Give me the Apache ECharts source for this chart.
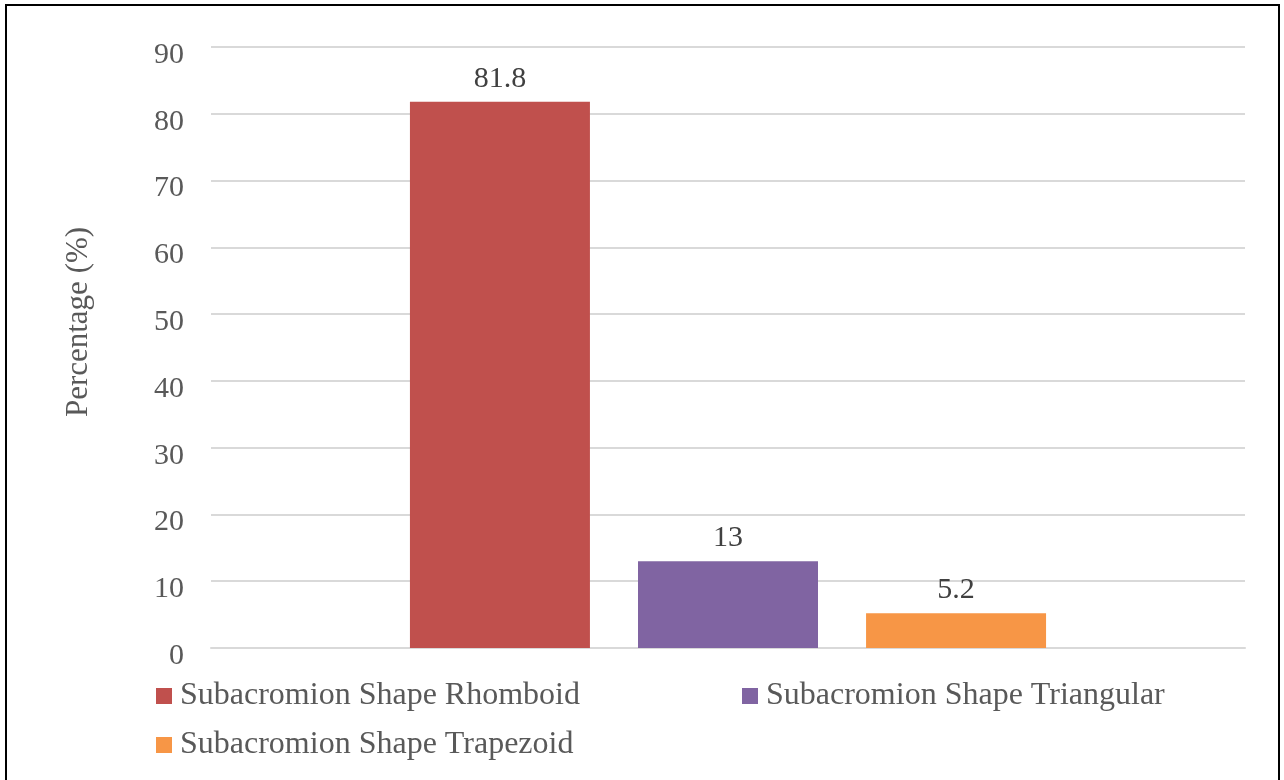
<!DOCTYPE html>
<html>
<head>
<meta charset="utf-8">
<script src="https://cdn.jsdelivr.net/npm/echarts@6/dist/echarts.min.js"></script>
<style>
  html, body { margin: 0; padding: 0; background: #fff; }
  #chart { width: 1284px; height: 780px; }
</style>
</head>
<body>
<div id="chart"></div>
<script>
// Subacromion shape distribution (%)
const categories = ['Subacromion Shape'];
const seriesNames = ['Subacromion Shape Rhomboid', 'Subacromion Shape Triangular', 'Subacromion Shape Trapezoid'];
const rhomboid = [81.8];
const triangular = [13];
const trapezoid = [5.2];
const yTicks = [0, 10, 20, 30, 40, 50, 60, 70, 80, 90];

const colors = ['#C0504D', '#8064A2', '#F79646'];
const fontFamily = '"Liberation Serif", "Times New Roman", serif';

const chart = echarts.init(document.getElementById('chart'));

function legendAt(name, left, top) {
  return {
    data: [name],
    left: left,
    top: top,
    orient: 'horizontal',
    icon: 'rect',
    itemWidth: 16,
    itemHeight: 16,
    itemGap: 0,
    padding: 0,
    selectedMode: false,
    textStyle: { fontFamily: fontFamily, fontSize: 32, color: '#595959', padding: [12, 0, 0, 3] }
  };
}

const valuesBySeries = [rhomboid, triangular, trapezoid];

chart.setOption({
  animation: false,
  backgroundColor: '#ffffff',
  color: colors,
  grid: { left: 211, right: 39, top: 47, bottom: 132, containLabel: false },
  xAxis: {
    type: 'category',
    data: categories,
    axisLine: { show: true, lineStyle: { color: '#d9d9d9', width: 2 } },
    axisTick: { show: false },
    axisLabel: { show: false }
  },
  yAxis: {
    type: 'value',
    min: yTicks[0],
    max: yTicks[yTicks.length - 1],
    interval: 10,
    axisLine: { show: false },
    axisTick: { show: false },
    axisLabel: {
      fontFamily: fontFamily,
      fontSize: 30,
      color: '#595959',
      margin: 27,
      verticalAlign: 'top',
      lineHeight: 16
    },
    splitLine: { lineStyle: { color: '#d9d9d9', width: 2 } }
  },
  legend: [
    legendAt(seriesNames[0], 156, 680),
    legendAt(seriesNames[1], 742, 680),
    legendAt(seriesNames[2], 156, 729)
  ],
  graphic: [
    {
      type: 'rect',
      shape: { x: 6, y: 5, width: 1273, height: 800 },
      style: { fill: 'none', stroke: '#000', lineWidth: 2 },
      silent: true
    },
    {
      type: 'text',
      x: 79,
      y: 322,
      rotation: Math.PI / 2,
      style: {
        text: 'Percentage (%)',
        fontFamily: fontFamily,
        fontSize: 31,
        fill: '#595959',
        textAlign: 'center',
        textVerticalAlign: 'middle'
      }
    }
  ],
  series: seriesNames.map((name, i) => ({
    name: name,
    type: 'bar',
    data: valuesBySeries[i],
    barWidth: 180,
    barGap: '26.7%',
    itemStyle: { color: colors[i] },
    label: {
      show: true,
      position: 'top',
      distance: 8,
      fontFamily: fontFamily,
      fontSize: 30,
      color: '#404040'
    }
  }))
});
</script>
</body>
</html>
